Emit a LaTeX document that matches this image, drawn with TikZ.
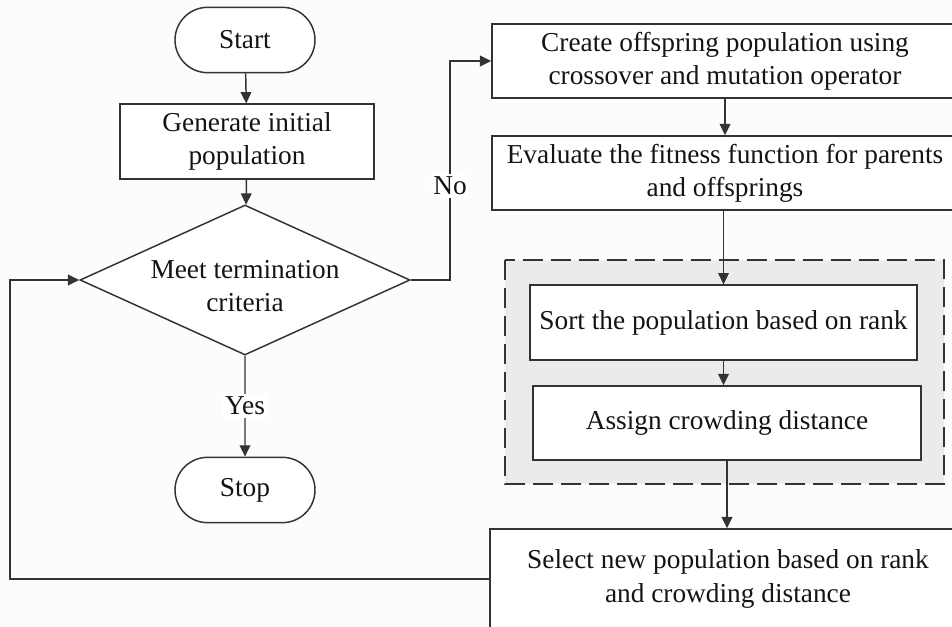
\documentclass[tikz,border=0pt]{standalone}
\usepackage{fontspec}
\setmainfont{Liberation Serif}
\usetikzlibrary{shapes.geometric,shapes.misc,arrows.meta}
\begin{document}
\begin{tikzpicture}[x=0.75pt,y=-0.75pt,
  every node/.style={font=\fontsize{20.5}{25}\selectfont, text=black!92, align=center},
  line/.style={draw=black!80, line width=1.1pt},
  arr/.style={line, -{Triangle[length=8.5pt,width=8pt]}},
  box/.style={rectangle, draw=black!80, line width=1.1pt, fill=white, inner sep=0pt},
  term/.style={rounded rectangle, draw=black!80, line width=1.1pt, fill=white, inner sep=0pt, minimum width=105pt, minimum height=49pt},
  lbl/.style={fill=white, inner sep=2pt}
]
\useasboundingbox (0,0) rectangle (952,627);
\fill[white!99!black] (0,0) rectangle (952,627);
\clip (0,0) rectangle (952,627);

% grouped region
\draw[fill=black!8, draw=black!80, line width=1.3pt, dash pattern=on 15pt off 6pt] (505,260) rectangle (944,484);

% left column
\node[term] (start) at (245,40) {Start};
\node[box, minimum width=190.5pt, minimum height=56pt] (gen) at (247,141.5) {Generate initial\\population};
\node[diamond, draw=black!80, line width=1.1pt, fill=white, inner sep=0pt, minimum width=247.5pt, minimum height=112.5pt] (dec) at (245,280) {};
\node (dectext) at (245,286) {Meet termination\\criteria};
\node[term] (stop) at (245,490) {Stop};

% right column
\node[box, minimum width=349.5pt, minimum height=55.5pt] (create) at (725,61) {Create offspring population using\\crossover and mutation operator};
\node[box, minimum width=349.5pt, minimum height=55.5pt] (eval) at (725,173) {Evaluate the fitness function for parents\\and offsprings};
\node[box, minimum width=290pt, minimum height=56pt] (sort) at (723.5,322.5) {Sort the population based on rank};
\node[box, minimum width=291pt, minimum height=55.5pt] (assign) at (727,423) {Assign crowding distance};
\node[box, minimum width=357pt, minimum height=75pt] (select) at (728,579) {Select new population based on rank\\and crowding distance};

% connectors
\draw[arr] (start) -- (gen);
\draw[arr] (gen) -- (dec);
\draw[arr] (dec.south) -- node[lbl] (yes) {Yes} (stop);
\coordinate (nx1) at (450,280);
\coordinate (nx2) at (450,61);
\draw[arr] (dec.east) -- (nx1) -- node[lbl, pos=0.43] (no) {No} (nx2) -- (create.west);
\draw[arr] (create) -- (eval);
\draw[arr] (eval.south -| sort.north) -- (sort.north);
\draw[arr] (sort) -- (sort.south |- assign.north);
\draw[arr] (assign.south) -- (assign.south |- select.north);
\coordinate (lx1) at (10,579);
\coordinate (lx2) at (10,280);
\draw[arr] (select.west) -- (lx1) -- (lx2) -- (dec.west);
\end{tikzpicture}
\end{document}
